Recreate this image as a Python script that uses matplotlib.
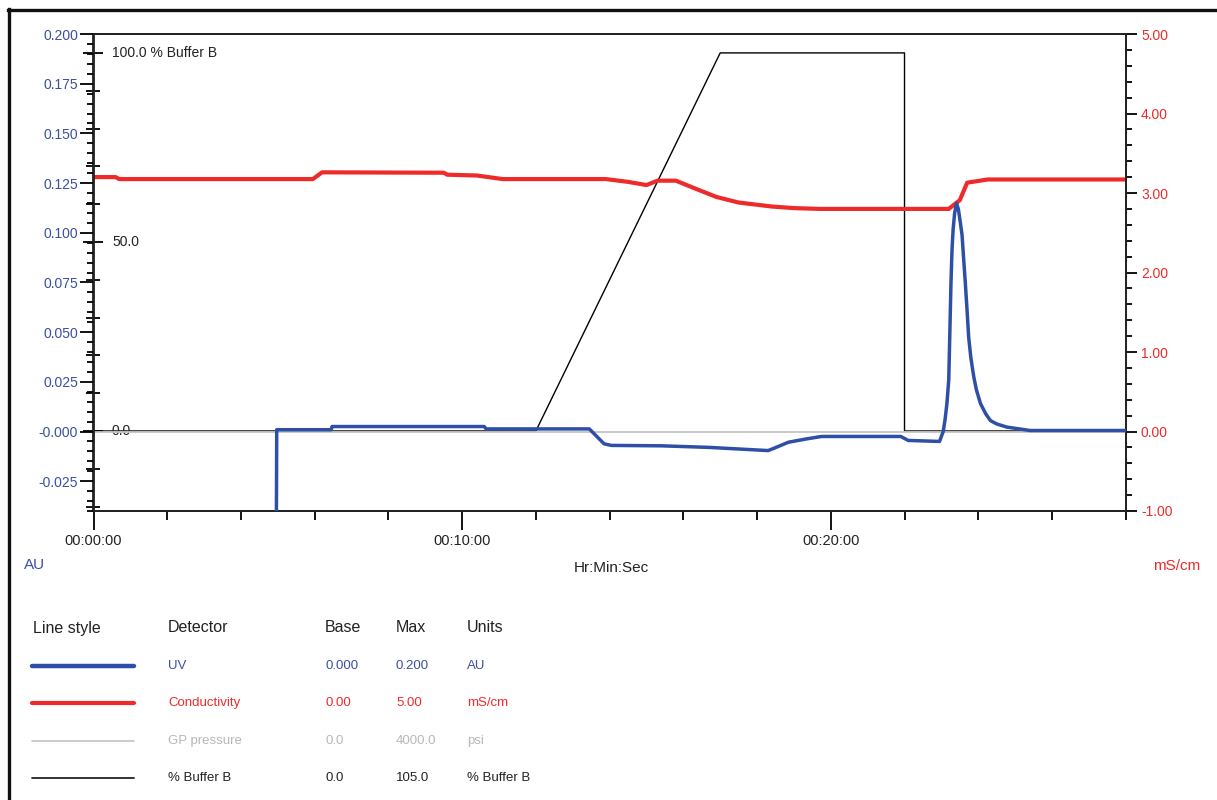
import matplotlib
matplotlib.use("Agg")
import matplotlib.pyplot as plt
from matplotlib import font_manager
from matplotlib.lines import Line2D
from matplotlib.ticker import FixedLocator, MultipleLocator
import matplotlib.transforms as mtransforms

# ---------------- data ----------------
# UV absorbance (AU) vs time (min)
uv_t = [4.96, 4.97, 6.45, 6.47, 10.6, 10.65, 13.45, 13.85, 14.05, 15.4, 16.7,
        18.3, 18.45, 18.85, 19.35, 19.75, 21.9, 22.1, 22.95, 23.05, 23.1, 23.15,
        23.2, 23.23, 23.26, 23.29, 23.32, 23.36, 23.41, 23.46, 23.5, 23.56,
        23.6, 23.65, 23.7, 23.74, 23.8, 23.88, 23.95, 24.06, 24.2, 24.33, 24.5,
        24.78, 25.41, 28.0]
uv_au = [-0.05, 0.0009, 0.0009, 0.0025, 0.0025, 0.0013, 0.0013, -0.0062, -0.0070,
         -0.0072, -0.0080, -0.0096, -0.0085, -0.0054, -0.0037, -0.0025, -0.0025,
         -0.0045, -0.0050, 0.0, 0.006, 0.014, 0.026, 0.050, 0.0746, 0.092, 0.1020,
         0.1100, 0.1147, 0.1120, 0.1070, 0.0990, 0.0880, 0.0746, 0.0600, 0.0475,
         0.0370, 0.0274, 0.0210, 0.0141, 0.0090, 0.0055, 0.0038, 0.0022, 0.0005,
         0.0005]

# Conductivity (mS/cm) vs time (min)
cond_t = [0.0, 0.6, 0.7, 5.95, 6.2, 9.5, 9.6, 10.4, 11.1, 13.9, 14.5, 15.0,
          15.3, 15.8, 16.3, 16.9, 17.5, 18.4, 19.0, 19.7, 23.2, 23.5, 23.7,
          24.05, 24.25, 28.0]
cond_ms = [3.20, 3.20, 3.175, 3.175, 3.26, 3.255, 3.23, 3.22, 3.175, 3.175,
           3.14, 3.10, 3.155, 3.155, 3.06, 2.95, 2.88, 2.83, 2.81, 2.80, 2.80,
           2.91, 3.13, 3.155, 3.17, 3.17]

# % Buffer B gradient
buf_t = [0.0, 12.0, 17.0, 22.0, 22.0, 28.0]
buf_pct = [0.0, 0.0, 100.0, 100.0, 0.0, 0.0]

# GP pressure (psi)
press_t = [0.0, 28.0]
press_psi = [0.0, 0.0]

# axis ticks / labels
x_major = [0, 10, 20]
x_labels = ["00:00:00", "00:10:00", "00:20:00"]
uv_ticks = [-0.025, 0.0, 0.025, 0.05, 0.075, 0.1, 0.125, 0.15, 0.175, 0.2]
uv_labels = ["-0.025", "-0.000", "0.025", "0.050", "0.075", "0.100", "0.125",
             "0.150", "0.175", "0.200"]
cond_ticks = [-1, 0, 1, 2, 3, 4, 5]
cond_labels = ["-1.00", "0.00", "1.00", "2.00", "3.00", "4.00", "5.00"]
buf_label_vals = [0, 50, 100]
buf_label_text = ["0.0", "50.0", "100.0 % Buffer B"]

# legend table
tbl_header = ["Line style", "Detector", "Base", "Max", "Units"]
tbl_names = ["UV", "Conductivity", "GP pressure", "% Buffer B"]
tbl_base = ["0.000", "0.00", "0.0", "0.0"]
tbl_max = ["0.200", "5.00", "4000.0", "105.0"]
tbl_units = ["AU", "mS/cm", "psi", "% Buffer B"]

# ---------------- style ----------------
BLUE = "#2E4FA6"
BLUE_TXT = "#3A4FA0"
RED = "#EE2A2A"
GRAY = "#C4C4C4"

def has_font(name):
    try:
        font_manager.findfont(name, fallback_to_default=False)
        return True
    except Exception:
        return False

NARROW = "Liberation Sans Narrow" if has_font("Liberation Sans Narrow") else "Liberation Sans"
REG = "Liberation Sans"
nsz = 12 if NARROW == "Liberation Sans Narrow" else 10

W, H = 1217, 800
fig = plt.figure(figsize=(W / 100, H / 100), dpi=100)

def fx(px):
    return px / W

def fy(py):
    return 1 - py / H

x0, x1, y0, y1 = 93.5, 1125.7, 34, 511
ax = fig.add_axes([fx(x0), fy(y1), fx(x1 - x0), (y1 - y0) / H])
axr = ax.twinx()
axb = ax.twinx()
axp = ax.twinx()

ax.set_xlim(0, 28)
ax.set_ylim(-0.04, 0.2)
axr.set_ylim(-1, 5)
axb.set_ylim(-21.164, 105)
axp.set_ylim(-800, 4000)

axb.plot(buf_t, buf_pct, color="black", lw=1.0, zorder=2)
axp.plot(press_t, press_psi, color=GRAY, lw=1.3, zorder=3)
axr.plot(cond_t, cond_ms, color=RED, lw=3.0, solid_capstyle="butt", zorder=4)
ax.plot(uv_t, uv_au, color=BLUE, lw=2.5, solid_joinstyle="round", zorder=5)

ax.set_zorder(5)
ax.patch.set_visible(False)
axr.set_zorder(4)
axp.set_zorder(3)
axb.set_zorder(2)

for a in (ax, axr, axb, axp):
    for s in a.spines.values():
        s.set_linewidth(1.3)
        s.set_color("#222222")
for a in (axb, axp):
    for s in a.spines.values():
        s.set_visible(False)
axp.set_yticks([])

# --- x axis
ax.xaxis.set_major_locator(FixedLocator(x_major))
ax.set_xticklabels(x_labels, fontfamily=NARROW, fontsize=nsz + 0.5, color="#222222")
ax.xaxis.set_minor_locator(MultipleLocator(2))
ax.tick_params(axis="x", which="major", direction="out", length=13.5, width=1.3, pad=3)
ax.tick_params(axis="x", which="minor", direction="out", length=6.5, width=1.3)

# --- left (UV) axis
ax.yaxis.set_major_locator(FixedLocator(uv_ticks))
ax.set_yticklabels(uv_labels, fontfamily=NARROW, fontsize=nsz, color=BLUE_TXT)
ax.yaxis.set_minor_locator(MultipleLocator(0.005))
ax.tick_params(axis="y", which="major", direction="out", length=10, width=1.3, pad=1)
ax.tick_params(axis="y", which="minor", direction="out", length=5, width=1.3)

# --- right (conductivity) axis
axr.yaxis.set_major_locator(FixedLocator(cond_ticks))
axr.set_yticklabels(cond_labels, fontfamily=NARROW, fontsize=nsz, color=RED)
axr.yaxis.set_minor_locator(MultipleLocator(0.2))
axr.tick_params(axis="y", which="major", direction="out", length=8, width=1.3, pad=3)
axr.tick_params(axis="y", which="minor", direction="out", length=4, width=1.3)

# --- % Buffer B axis drawn on the left spine
axb.yaxis.set_ticks_position("left")
axb.yaxis.set_major_locator(FixedLocator(buf_label_vals))
axb.yaxis.set_minor_locator(MultipleLocator(10))
axb.tick_params(axis="y", which="major", direction="inout", length=14, width=1.3,
                left=True, labelleft=False, right=False, labelright=False)
axb.tick_params(axis="y", which="minor", direction="inout", length=9.5, width=1.3,
                left=True, labelleft=False, right=False, labelright=False)
lbl_tr = axb.get_yaxis_transform() + mtransforms.ScaledTranslation(18.5 / 100, 0, fig.dpi_scale_trans)
for v, t in zip(buf_label_vals, buf_label_text):
    axb.text(0, v, t, transform=lbl_tr, fontfamily=NARROW, fontsize=nsz,
             color="#222222", va="center", ha="left", zorder=10)

# --- axis captions
fig.text(fx(611), fy(568), "Hr:Min:Sec", fontfamily=NARROW, fontsize=nsz + 1,
         color="#222222", ha="center", va="center")
fig.text(fx(35), fy(565), "AU", fontfamily=NARROW, fontsize=nsz + 1,
         color=BLUE_TXT, ha="center", va="center")
fig.text(fx(1177), fy(566), "mS/cm", fontfamily=NARROW, fontsize=nsz + 1,
         color=RED, ha="center", va="center")

# --- legend table
hdr_x = [33, 168, 325, 396, 467]
hdr_y = 628
for x, t in zip(hdr_x, tbl_header):
    fig.text(fx(x), fy(hdr_y), t, fontfamily=REG, fontsize=11.5, color="#222222",
             ha="left", va="center")

row_y = [666, 703, 741, 778]
row_col = [BLUE, RED, GRAY, "#222222"]
row_txtcol = [BLUE_TXT, RED, "#B8B8B8", "#222222"]
row_lw = [3.2, 3.0, 1.2, 1.3]
for i in range(4):
    y = row_y[i]
    fig.add_artist(Line2D([fx(32), fx(134)], [fy(y), fy(y)], color=row_col[i],
                          lw=row_lw[i], solid_capstyle="round"))
    for x, t in zip(hdr_x[1:], [tbl_names[i], tbl_base[i], tbl_max[i], tbl_units[i]]):
        fig.text(fx(x), fy(y), t, fontfamily=REG, fontsize=9.5,
                 color=row_txtcol[i], ha="left", va="center")

# --- frame edges (top and left) of the printout
fig.add_artist(Line2D([fx(8), fx(W)], [fy(10), fy(10)], color="#111111", lw=2.4))
fig.add_artist(Line2D([fx(8.5), fx(8.5)], [fy(9), fy(H)], color="#111111", lw=2.4))

fig.savefig("out.png", dpi=100)
